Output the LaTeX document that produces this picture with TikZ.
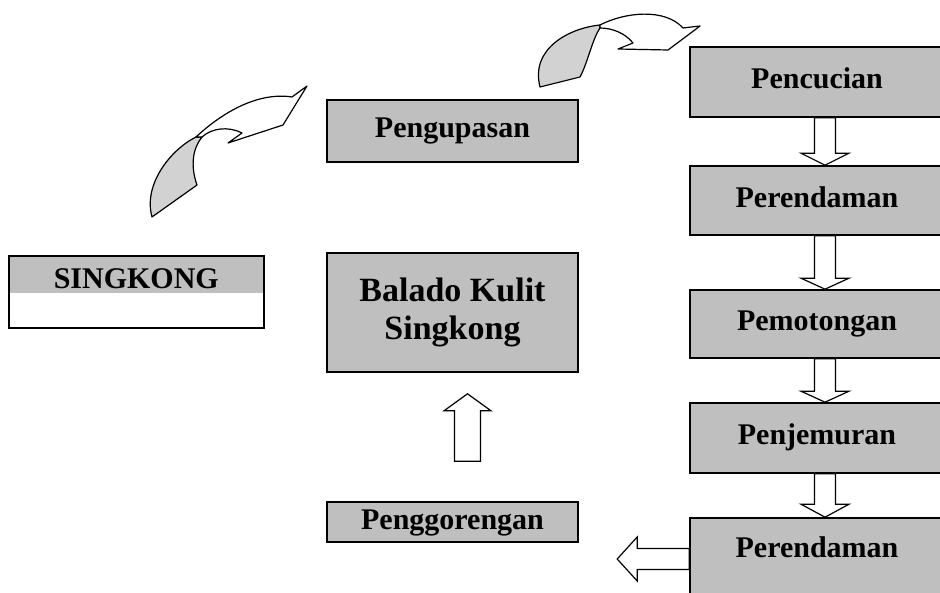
\documentclass[tikz,border=0pt]{standalone}
\usepackage{fontspec}
\setmainfont{Liberation Serif}
\usetikzlibrary{calc}

\begin{document}
\begin{tikzpicture}[x=1pt,y=-1pt,
    box/.style={draw,line width=1.6pt,fill=gray!50,inner sep=0pt,
      font=\bfseries\fontsize{30}{38}\selectfont},
    flow/.style={box,text height=21pt,text depth=7pt},
    blockarr/.style n args={3}{draw,line width=1.2pt,fill=white,to path={
      let \p1=(\tikztostart), \p2=(\tikztotarget), \p3=($(\p2)!#3!(\p1)$) in
      ($(\p1)!#1!90:(\p2)$) -- ($(\p3)!#1!90:(\p2)$) -- ($(\p3)!#2!90:(\p2)$)
      -- (\p2) -- ($(\p3)!#2!-90:(\p2)$) -- ($(\p3)!#1!-90:(\p2)$)
      -- ($(\p1)!#1!-90:(\p2)$) -- cycle}},
    curl/.style={draw,line width=1.2pt,line join=round,fill=white},
    curltail/.style={curl,fill=gray!35}]
  \useasboundingbox (0,0) rectangle (940,593);

  % left column
  \node[box,fill=white,anchor=north west,minimum width=255pt,
    text height=33pt,text depth=39pt,
    path picture={\fill[gray!50] (path picture bounding box.north west)
      rectangle ([yshift=-37pt]path picture bounding box.north east);}]
    (singkong) at (8,255) {SINGKONG};

  % middle column
  \node[flow,minimum width=251pt,minimum height=62pt] (kupas) at (452.5,131) {Pengupasan};
  \node[box,align=center,minimum width=251pt,minimum height=119pt,
    font=\bfseries\fontsize{34}{38}\selectfont] (balado) at (452.5,312.5) {Balado Kulit\\Singkong};
  \node[flow,minimum width=251pt,minimum height=40pt] (goreng) at (452.5,522) {Penggorengan};

  % right column
  \node[flow,minimum width=254pt,minimum height=70pt] (cuci) at (817,82) {Pencucian};
  \node[flow,minimum width=254pt,minimum height=69pt] (rendam1) at (817,200.5) {Perendaman};
  \node[flow,minimum width=254pt,minimum height=68pt] (potong) at (817,324) {Pemotongan};
  \node[flow,minimum width=254pt,minimum height=70pt] (jemur) at (817,438) {Penjemuran};
  \node[flow,minimum width=254pt,minimum height=82pt,text depth=25pt] (rendam2) at (817,559) {Perendaman};

  % block arrows
  \draw[blockarr={10.5pt}{24pt}{12pt}] ([xshift=8pt]cuci.south) to ([xshift=8pt]rendam1.north);
  \draw[blockarr={10.5pt}{24pt}{11pt}] ([xshift=8pt]rendam1.south) to ([xshift=8pt]potong.north);
  \draw[blockarr={10.5pt}{24pt}{11pt}] ([xshift=8pt]potong.south) to ([xshift=8pt]jemur.north);
  \draw[blockarr={10.5pt}{24pt}{13pt}] ([xshift=8pt]jemur.south) to ([xshift=8pt]rendam2.north);
  \draw[blockarr={10.5pt}{22pt}{20pt}] (rendam2.west) to ([xshift=-72pt]rendam2.west);
  \draw[blockarr={13pt}{23.5pt}{17pt}] ([xshift=15pt,yshift=40pt]goreng.north)
    to ([xshift=15pt,yshift=-21pt]balado.south);

  % curled arrows
  \draw[curltail] (152,217) -- (197,185) .. controls (190,165) and (193,148) .. (202,137)
    -- (196,137) .. controls (170,150) and (143,185) .. (152,217) -- cycle;
  \draw[curl] (196,137) .. controls (225,110) and (260,92) .. (292,97) -- (307,86)
    -- (283,125) -- (228,143) -- (242,133) .. controls (228,126) and (212,128) .. (202,137) -- cycle;
  \draw[curltail] (540,87) -- (580,77) .. controls (588,62) and (592,40) .. (600,28)
    -- (600,25) .. controls (570,28) and (530,48) .. (540,87) -- cycle;
  \draw[curl] (600,25) .. controls (625,12) and (665,8) .. (683,28) -- (700,26)
    -- (668,50) -- (618,49) -- (633,43) .. controls (625,33) and (612,28) .. (600,28) -- cycle;
\end{tikzpicture}
\end{document}
